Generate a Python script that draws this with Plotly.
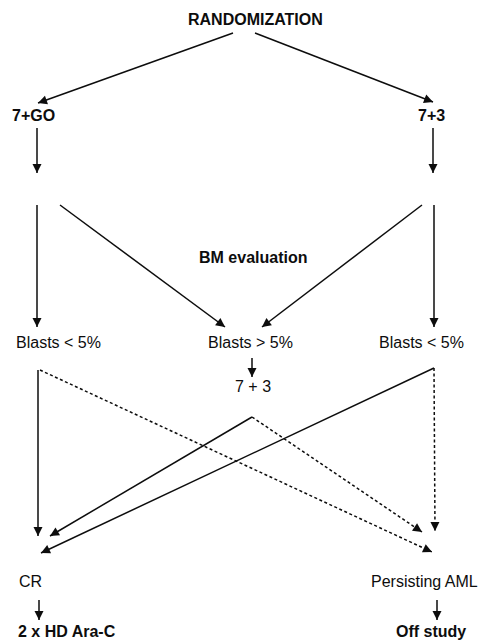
import math
import plotly.graph_objects as go

# ---- diagram data (pixel coordinates of the original figure, y measured from top) ----
node_labels = ["RANDOMIZATION", "7+GO", "7+3", "BM evaluation",
               "Blasts < 5%", "Blasts > 5%", "Blasts < 5%", "7 + 3",
               "CR", "Persisting AML", "2 x HD Ara-C", "Off study"]
node_x = [255, 33, 431, 253, 58, 250, 421, 253, 30, 424, 67, 431]
node_y = [19, 115, 115, 257, 342, 342, 342, 386, 581, 581, 631, 631]
node_bold = [True, True, True, True, False, False, False, False, False, False, True, True]

# edges: start point, arrow-tip point
solid_start = [(233, 33), (255, 33), (37, 128), (433, 128), (37, 205), (60, 205),
               (422, 205), (434, 205), (252, 358), (38, 370), (252, 417), (434, 368),
               (39, 600), (437, 600)]
solid_end = [(38, 103), (433, 102), (37, 173), (433, 173), (37, 327), (225, 327),
             (262, 327), (434, 327), (252, 377), (38, 536), (50, 536), (41, 553),
             (39, 620), (437, 620)]
dashed_start = [(40, 370), (252, 417), (434, 368)]
dashed_end = [(432, 552), (422, 532), (435, 531)]

INK = "#0d0d0d"
FONT = "Liberation Sans, Arial, sans-serif"

fig = go.Figure()
annotations = []


def add_edge(p0, p1, dash):
    fig.add_trace(go.Scatter(
        x=[p0[0], p1[0]], y=[p0[1], p1[1]], mode="lines",
        line=dict(color=INK, width=1.5, dash=dash),
        hoverinfo="skip", showlegend=False))
    dx, dy = p1[0] - p0[0], p1[1] - p0[1]
    L = math.hypot(dx, dy)
    back = min(7.0, L / 2)
    annotations.append(dict(
        x=p1[0], y=p1[1], ax=p1[0] - dx / L * back, ay=p1[1] - dy / L * back,
        xref="x", yref="y", axref="x", ayref="y", text="", showarrow=True,
        arrowhead=2, arrowsize=1.2, arrowwidth=1.5, arrowcolor=INK, standoff=0))


for p0, p1 in zip(solid_start, solid_end):
    add_edge(p0, p1, "solid")
for p0, p1 in zip(dashed_start, dashed_end):
    add_edge(p0, p1, "3px,2.5px")

for lab, x, y, b in zip(node_labels, node_x, node_y, node_bold):
    annotations.append(dict(
        x=x, y=y, xref="x", yref="y", text=f"<b>{lab}</b>" if b else lab,
        showarrow=False, xanchor="center", yanchor="middle",
        font=dict(family=FONT, size=16, color=INK)))

fig.update_layout(
    width=480, height=640,
    margin=dict(l=0, r=0, t=0, b=0),
    paper_bgcolor="white", plot_bgcolor="white",
    xaxis=dict(range=[0, 480], visible=False, fixedrange=True),
    yaxis=dict(range=[640, 0], visible=False, fixedrange=True),
    annotations=annotations,
    showlegend=False,
)

fig.write_html("out.html", config={"displayModeBar": False},
               post_script="document.body.style.margin='0';document.body.style.overflow='hidden';")
